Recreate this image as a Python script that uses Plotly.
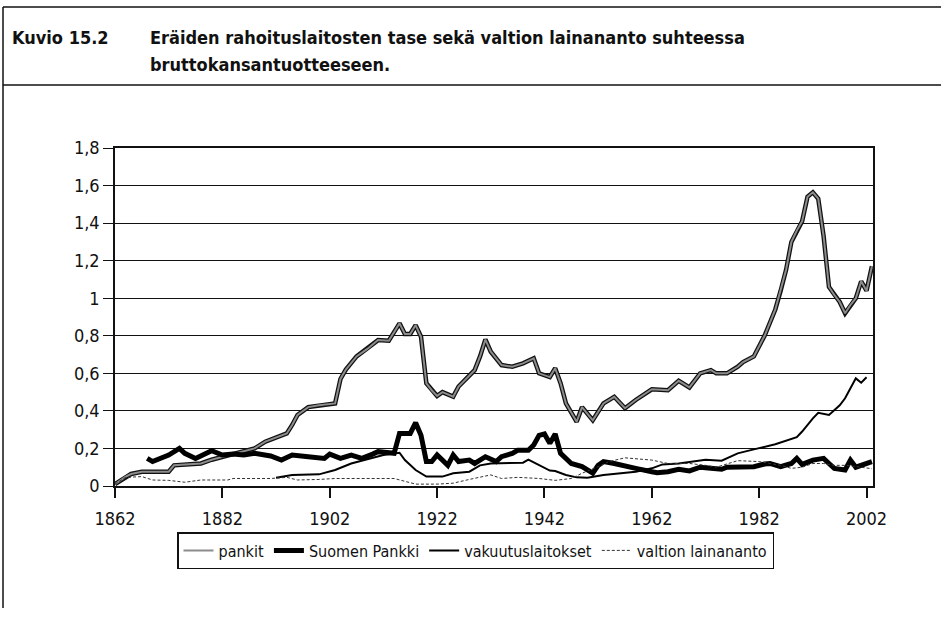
import plotly.graph_objects as go

# --- data: share of GDP ---------------------------------------------------
pankit_years = [1862, 1864, 1865, 1867, 1872, 1873, 1878, 1880, 1884, 1888,
                1890, 1894, 1895, 1896, 1898, 1900, 1903, 1904, 1905, 1907,
                1909, 1911, 1913, 1914, 1915, 1916, 1917, 1918, 1919, 1920,
                1921, 1922, 1923, 1925, 1926, 1929, 1930, 1931, 1932, 1934,
                1936, 1938, 1940, 1941, 1943, 1944, 1945, 1946, 1948, 1949,
                1951, 1953, 1955, 1957, 1959, 1962, 1965, 1967, 1969, 1971,
                1973, 1974, 1976, 1978, 1979, 1981, 1983, 1985, 1986, 1987,
                1988, 1989, 1990, 1991, 1992, 1993, 1994, 1995, 1996, 1997,
                1998, 1999, 2000, 2001, 2002, 2003]
pankit = [0.01, 0.05, 0.064, 0.076, 0.076, 0.11, 0.12, 0.14, 0.17, 0.20,
          0.236, 0.28, 0.325, 0.378, 0.42, 0.43, 0.44, 0.57, 0.62, 0.69,
          0.73, 0.777, 0.774, 0.82, 0.866, 0.81, 0.81, 0.857, 0.795, 0.547,
          0.51, 0.48, 0.50, 0.476, 0.53, 0.617, 0.69, 0.78, 0.715, 0.644,
          0.635, 0.653, 0.68, 0.60, 0.58, 0.627, 0.547, 0.44, 0.342, 0.42,
          0.35, 0.44, 0.475, 0.414, 0.458, 0.515, 0.51, 0.56, 0.525, 0.60,
          0.617, 0.60, 0.60, 0.635, 0.66, 0.69, 0.80, 0.94, 1.04, 1.15,
          1.30, 1.36, 1.41, 1.54, 1.564, 1.53, 1.33, 1.06, 1.017, 0.98,
          0.92, 0.964, 1.0, 1.09, 1.04, 1.17]

sp_years = [1868, 1869, 1872, 1874, 1875, 1877, 1880, 1882, 1884, 1886,
            1888, 1891, 1893, 1895, 1898, 1901, 1902, 1904, 1906, 1908,
            1910, 1911, 1914, 1915, 1917, 1918, 1919, 1920, 1921, 1922,
            1924, 1925, 1926, 1928, 1929, 1931, 1933, 1934, 1936, 1937,
            1939, 1940, 1941, 1942, 1943, 1944, 1945, 1947, 1949, 1951,
            1952, 1953, 1955, 1957, 1959, 1962, 1963, 1965, 1967, 1969,
            1971, 1973, 1975, 1976, 1979, 1981, 1983, 1984, 1986, 1988,
            1989, 1990, 1992, 1994, 1995, 1996, 1998, 1999, 2000, 2002,
            2003]
suomen_pankki = [0.147, 0.13, 0.165, 0.20, 0.174, 0.147, 0.188, 0.165, 0.17, 0.165,
                 0.174, 0.16, 0.138, 0.165, 0.156, 0.147, 0.17, 0.147, 0.165, 0.147,
                 0.17, 0.183, 0.174, 0.28, 0.28, 0.337, 0.27, 0.13, 0.13, 0.165,
                 0.11, 0.165, 0.13, 0.138, 0.12, 0.156, 0.13, 0.156, 0.174, 0.19,
                 0.19, 0.218, 0.27, 0.277, 0.227, 0.277, 0.174, 0.12, 0.103, 0.068,
                 0.11, 0.13, 0.12, 0.11, 0.094, 0.076, 0.071, 0.076, 0.089, 0.08,
                 0.10, 0.094, 0.089, 0.10, 0.10, 0.103, 0.117, 0.12, 0.103, 0.12,
                 0.147, 0.115, 0.138, 0.147, 0.12, 0.094, 0.085, 0.138, 0.10, 0.12,
                 0.13]

vak_years = [1892, 1895, 1900, 1903, 1906, 1910, 1912, 1915, 1916, 1918,
             1920, 1923, 1925, 1928, 1930, 1932, 1936, 1938, 1939, 1941,
             1943, 1944, 1946, 1948, 1950, 1953, 1957, 1959, 1962, 1964,
             1967, 1972, 1975, 1978, 1981, 1985, 1989, 1990, 1992, 1993,
             1995, 1997, 1998, 1999, 2000, 2001, 2002]
vakuutuslaitokset = [0.044, 0.059, 0.062, 0.085, 0.12, 0.15, 0.165, 0.177, 0.138, 0.085,
                     0.05, 0.05, 0.068, 0.076, 0.11, 0.12, 0.124, 0.124, 0.14, 0.11,
                     0.082, 0.08, 0.059, 0.046, 0.044, 0.059, 0.071, 0.076, 0.094, 0.115,
                     0.12, 0.14, 0.135, 0.174, 0.195, 0.222, 0.26, 0.29, 0.36, 0.39,
                     0.378, 0.43, 0.467, 0.52, 0.573, 0.55, 0.579]

val_years = [1862, 1864, 1867, 1869, 1872, 1875, 1878, 1883, 1884, 1891,
             1894, 1896, 1900, 1903, 1914, 1916, 1918, 1922, 1925, 1928,
             1931, 1932, 1934, 1937, 1941, 1944, 1947, 1949, 1952, 1954,
             1957, 1960, 1962, 1965, 1969, 1972, 1974, 1978, 1982, 1984,
             1986, 1988, 1990, 1992, 1994, 1996, 1998, 2001, 2003]
valtion_lainananto = [0.01, 0.046, 0.05, 0.032, 0.03, 0.02, 0.032, 0.032, 0.04, 0.04,
                      0.046, 0.032, 0.035, 0.04, 0.04, 0.023, 0.01, 0.01, 0.015, 0.035,
                      0.05, 0.059, 0.04, 0.046, 0.04, 0.03, 0.04, 0.068, 0.103, 0.13,
                      0.15, 0.145, 0.138, 0.12, 0.12, 0.11, 0.10, 0.135, 0.13, 0.12,
                      0.11, 0.094, 0.10, 0.12, 0.12, 0.11, 0.11, 0.10, 0.092]

x_ticks = [1862, 1882, 1902, 1922, 1942, 1962, 1982, 2002]
y_ticks = [0, 0.2, 0.4, 0.6, 0.8, 1.0, 1.2, 1.4, 1.6, 1.8]

# --- page geometry (pixels) ----------------------------------------------
W, H = 941, 622
PL, PR, PT, PB = 115, 873, 148, 486  # plot area edges


def px(x):
    return (x - PL) / (PR - PL)


def py(y):
    return (PB - y) / (PB - PT)


FONT = "DejaVu Sans Condensed, DejaVu Sans, sans-serif"

fig = go.Figure()

# banks: grey core with a dark outline
fig.add_trace(go.Scatter(x=pankit_years, y=pankit, mode="lines", showlegend=False,
                         legendgroup="pankit", hoverinfo="skip",
                         line=dict(color="#111111", width=4.5)))
fig.add_trace(go.Scatter(x=pankit_years, y=pankit, mode="lines", name="pankit",
                         legendgroup="pankit",
                         line=dict(color="#8c8c8c", width=2)))
fig.add_trace(go.Scatter(x=sp_years, y=suomen_pankki, mode="lines", name="Suomen Pankki",
                         line=dict(color="#000000", width=5)))
fig.add_trace(go.Scatter(x=vak_years, y=vakuutuslaitokset, mode="lines",
                         name="vakuutuslaitokset",
                         line=dict(color="#000000", width=2)))
fig.add_trace(go.Scatter(x=val_years, y=valtion_lainananto, mode="lines",
                         name="valtion lainananto",
                         line=dict(color="#333333", width=1, dash="3px,2px")))

# outer frame of the figure box
frame = [
    (3, 7, W, 7),
    (3, 85, W, 85),
    (3, 7, 3, 608),
]
shapes = [dict(type="line", xref="paper", yref="paper",
               x0=px(a), y0=py(b), x1=px(c), y1=py(d),
               line=dict(color="#111111", width=1.5)) for a, b, c, d in frame]

TITLE_FONT = dict(family=FONT, size=18, color="#111111")
annotations = [
    dict(text="<b>Kuvio 15.2</b>", x=px(10), y=py(37), xref="paper", yref="paper",
         xanchor="left", yanchor="middle", showarrow=False, font=TITLE_FONT),
    dict(text="<b>Eräiden rahoituslaitosten tase sekä valtion lainananto suhteessa</b>",
         x=px(148), y=py(37), xref="paper", yref="paper",
         xanchor="left", yanchor="middle", showarrow=False, font=TITLE_FONT),
    dict(text="<b>bruttokansantuotteeseen.</b>",
         x=px(148), y=py(64), xref="paper", yref="paper",
         xanchor="left", yanchor="middle", showarrow=False, font=TITLE_FONT),
]

fig.update_layout(
    width=W, height=H,
    margin=dict(l=PL, r=W - PR, t=PT, b=H - PB),
    paper_bgcolor="white", plot_bgcolor="white",
    separators=", ",
    font=dict(family=FONT, size=18, color="#111111"),
    shapes=shapes,
    annotations=annotations,
    showlegend=True,
    legend=dict(orientation="h", x=px(177), y=py(532), xanchor="left", yanchor="top",
                bordercolor="#111111", borderwidth=1.5, bgcolor="white",
                font=dict(family=FONT, size=16, color="#111111"),
                itemwidth=30, tracegroupgap=0, traceorder="normal"),
)

fig.update_xaxes(range=[1862, 2003.2], tickvals=x_ticks,
                 ticktext=[str(t) for t in x_ticks],
                 showgrid=False, zeroline=False, ticklabelstandoff=6,
                 ticks="outside", ticklen=10, tickwidth=1.5, tickcolor="#111111",
                 showline=True, linecolor="#111111", linewidth=1.5, mirror=True)
fig.update_yaxes(range=[0, 1.8], tickvals=y_ticks,
                 showgrid=True, gridcolor="#111111", gridwidth=1.3, zeroline=False,
                 ticks="outside", ticklen=10, tickwidth=1.3, tickcolor="#111111",
                 showline=True, linecolor="#111111", linewidth=1.5, mirror=True)

fig.write_html("out.html")
